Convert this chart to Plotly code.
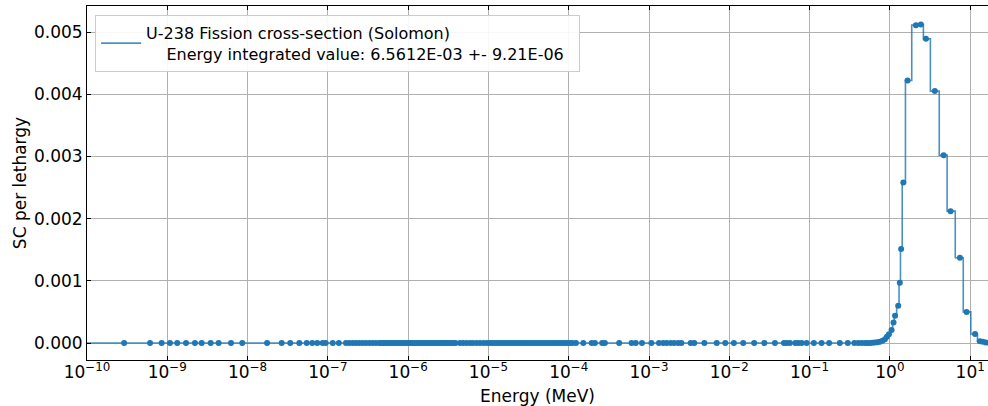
import plotly.graph_objects as go

# ---------------- data ----------------
# Bin mid-point energies (MeV) where the tally reads ~0
energy_flat = [
    2.9e-10, 6.1e-10, 8.5e-10, 1.08e-9, 1.33e-9, 1.71e-9, 2.21e-9, 2.68e-9, 3.47e-9, 4.36e-9,
    6.21e-9, 8.59e-9, 1.75e-8, 2.66e-8, 3.40e-8, 4.41e-8, 5.45e-8, 6.39e-8, 7.38e-8, 8.61e-8,
    9.39e-8, 1.15e-7, 1.37e-7, 1.68e-7, 1.85e-7, 2.04e-7, 2.24e-7, 2.46e-7, 2.71e-7, 2.98e-7,
    3.28e-7, 3.61e-7, 3.97e-7, 4.37e-7, 4.62e-7, 4.90e-7, 5.19e-7, 5.50e-7, 5.82e-7, 6.17e-7,
    6.53e-7, 6.92e-7, 7.33e-7, 7.76e-7, 8.22e-7, 8.71e-7, 9.23e-7, 9.77e-7, 1.035e-6, 1.096e-6,
    1.161e-6, 1.230e-6, 1.303e-6, 1.380e-6, 1.462e-6, 1.549e-6, 1.641e-6, 1.738e-6, 1.841e-6, 1.950e-6,
    2.065e-6, 2.188e-6, 2.317e-6, 2.455e-6, 2.600e-6, 2.754e-6, 2.917e-6, 3.090e-6, 3.273e-6, 3.467e-6,
    3.673e-6, 3.890e-6, 4.42e-6, 4.81e-6, 5.32e-6, 5.89e-6, 6.41e-6, 7.10e-6, 7.84e-6, 8.67e-6,
    9.57e-6, 1.045e-5, 1.122e-5, 1.205e-5, 1.294e-5, 1.390e-5, 1.493e-5, 1.603e-5, 1.725e-5, 1.853e-5,
    1.990e-5, 2.138e-5, 2.296e-5, 2.466e-5, 2.649e-5, 2.851e-5, 3.062e-5, 3.289e-5, 3.532e-5, 3.793e-5,
    4.074e-5, 4.375e-5, 4.699e-5, 5.058e-5, 5.433e-5, 5.834e-5, 6.266e-5, 6.730e-5, 7.228e-5, 7.762e-5,
    8.337e-5, 8.974e-5, 9.638e-5, 1.035e-4, 1.112e-4, 1.23e-4, 1.52e-4, 1.93e-4, 2.12e-4, 2.61e-4,
    2.82e-4, 4.25e-4, 6.06e-4, 6.82e-4, 8.17e-4, 1.07e-3, 1.33e-3, 1.50e-3, 1.66e-3, 1.86e-3,
    2.06e-3, 2.31e-3, 2.53e-3, 3.30e-3, 3.66e-3, 4.89e-3, 6.97e-3, 8.91e-3, 1.14e-2, 1.49e-2,
    2.04e-2, 2.73e-2, 3.70e-2, 4.79e-2, 5.19e-2, 5.69e-2, 6.64e-2, 7.26e-2, 7.98e-2, 9.18e-2,
    0.113, 0.141, 0.175, 0.238, 0.299, 0.361, 0.403, 0.445, 0.489,
]
sc_flat = [
    0, 0, 0, 0, 0, 0, 0, 0, 0, 0,
    0, 0, 0, 0, 0, 0, 0, 0, 0, 0,
    0, 0, 0, 0, 0, 0, 0, 0, 0, 0,
    0, 0, 0, 0, 0, 0, 0, 0, 0, 0,
    0, 0, 0, 0, 0, 0, 0, 0, 0, 0,
    0, 0, 0, 0, 0, 0, 0, 0, 0, 0,
    0, 0, 0, 0, 0, 0, 0, 0, 0, 0,
    0, 0, 0, 0, 0, 0, 0, 0, 0, 0,
    0, 0, 0, 0, 0, 0, 0, 0, 0, 0,
    0, 0, 0, 0, 0, 0, 0, 0, 0, 0,
    0, 0, 0, 0, 0, 0, 0, 0, 0, 0,
    0, 0, 0, 0, 0, 0, 0, 0, 0, 0,
    0, 0, 0, 0, 0, 0, 0, 0, 0, 0,
    0, 0, 0, 0, 0, 0, 0, 0, 0, 0,
    0, 0, 0, 0, 0, 0, 0, 0, 0, 0,
    0, 0, 0, 0, 0, 0, 0, 0, 0,
]

# Fast region: bin mid-point energies (MeV) and SC per lethargy
energy_fast = [
    0.525, 0.564, 0.605, 0.650, 0.698, 0.750, 0.807, 0.867, 0.918, 0.973,
    1.05, 1.11, 1.16, 1.27, 1.33, 1.38, 1.47, 1.66, 2.11, 2.43,
    2.81, 3.63, 4.67, 5.70, 7.45, 9.02, 11.5, 13.2, 14.4, 15.7, 17.1,
]
sc_fast = [
    0.000001, 0.000002, 0.000004, 0.000007, 0.000012, 0.00002, 0.000035, 0.00006, 0.0001, 0.00014,
    0.00021, 0.00033, 0.00044, 0.0006, 0.00097, 0.00151, 0.00258, 0.00422, 0.00511, 0.00512,
    0.00489, 0.00405, 0.00302, 0.00212, 0.00137, 0.0005, 0.000145, 0.00003, 0.00002, 0.00001, 0.000005,
]

# Group-structure outer edges (MeV)
energy_lower_edge = 1e-10
energy_upper_edge = 20.0

legend_label = ("U-238 Fission cross-section (Solomon)<br>"
                "\u00a0\u00a0\u00a0\u00a0Energy integrated value: 6.5612E-03 +- 9.21E-06\u00a0\u00a0")

x_tick_vals = [1e-10, 1e-9, 1e-8, 1e-7, 1e-6, 1e-5, 1e-4, 1e-3, 1e-2, 1e-1, 1e0, 1e1]
x_tick_text = ["10<sup>\u221210</sup>", "10<sup>\u22129</sup>", "10<sup>\u22128</sup>",
               "10<sup>\u22127</sup>", "10<sup>\u22126</sup>", "10<sup>\u22125</sup>",
               "10<sup>\u22124</sup>", "10<sup>\u22123</sup>", "10<sup>\u22122</sup>",
               "10<sup>\u22121</sup>", "10<sup>0</sup>", "10<sup>1</sup>"]
x_range_log = [-10, 1.222]
y_range = [-0.000273, 0.005418]
y_ticks = [0.000, 0.001, 0.002, 0.003, 0.004, 0.005]

# ---------------- figure ----------------
assert len(energy_flat) == len(sc_flat)
energy_mid = energy_flat + energy_fast
sc_mid = sc_flat + sc_fast

line_x = [energy_lower_edge] + energy_mid + [energy_upper_edge]
line_y = [sc_mid[0]] + sc_mid + [sc_mid[-1]]

BLUE = "#1f77b4"
FONT = "DejaVu Sans"

fig = go.Figure()
fig.add_trace(go.Scatter(
    x=line_x, y=line_y, mode="lines", line=dict(color=BLUE, width=1.6, shape="hvh"),
    opacity=0.8, name=legend_label, showlegend=True, hoverinfo="skip",
))
fig.add_trace(go.Scatter(
    x=energy_mid, y=sc_mid, mode="markers",
    marker=dict(color=BLUE, size=6, line=dict(width=0)),
    showlegend=False,
))

fig.update_layout(
    width=988, height=406,
    margin=dict(l=87, r=0, t=6, b=46, autoexpand=False),
    paper_bgcolor="white", plot_bgcolor="white",
    font=dict(family=FONT, size=16, color="black"),
    legend=dict(
        x=0.009, y=0.975, xanchor="left", yanchor="top",
        bgcolor="rgba(255,255,255,0.9)", bordercolor="#cccccc", borderwidth=1,
        font=dict(family=FONT, size=16, color="black"),
        itemwidth=40, tracegroupgap=0,
    ),
    xaxis=dict(
        type="log", range=x_range_log, tickvals=x_tick_vals, ticktext=x_tick_text,
        automargin=False,
        showgrid=True, gridcolor="#b0b0b0", gridwidth=0.8,
        showline=True, linecolor="black", linewidth=1, mirror="ticks",
        ticks="inside", ticklen=4, tickwidth=1, tickcolor="black",
        tickfont=dict(family=FONT, size=17), ticklabelstandoff=-3,
        title=dict(text="Energy (MeV)", font=dict(family=FONT, size=17), standoff=8),
        zeroline=False,
    ),
    yaxis=dict(
        range=y_range, tickvals=y_ticks, tickformat=".3f",
        automargin=False,
        showgrid=True, gridcolor="#b0b0b0", gridwidth=0.8,
        showline=True, linecolor="black", linewidth=1, mirror=False,
        ticks="inside", ticklen=4, tickwidth=1, tickcolor="black",
        tickfont=dict(family=FONT, size=17), ticklabelstandoff=0,
        title=dict(text="SC per lethargy", font=dict(family=FONT, size=17), standoff=2),
        zeroline=False,
    ),
)

fig.write_html("out.html", config={"displayModeBar": False},
               post_script="document.body.style.margin='0';")
